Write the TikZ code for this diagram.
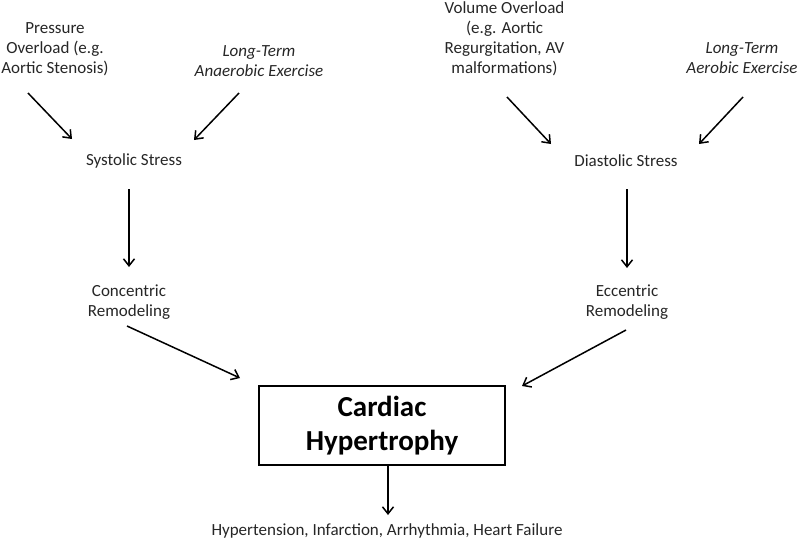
\documentclass[tikz,border=0pt]{standalone}
\usepackage{fontspec}
\setmainfont{Carlito}
\usetikzlibrary{arrows.meta,calc}
\tikzset{
  lbl/.style={align=center, inner sep=0pt, font=\fontsize{17}{20}\selectfont, text=black!85},
  ilbl/.style={lbl, font=\fontsize{17}{20}\selectfont\itshape},
  arr/.style={line width=1.5pt, -{Straight Barb[length=7pt,width=11pt,line width=1.5pt]}},
  mainbox/.style={draw, line width=1.4pt, minimum width=246pt, minimum height=79pt, inner sep=0pt, align=center, font=\fontsize{29}{34}\selectfont\bfseries}
}
\begin{document}
\begin{tikzpicture}[x=1pt,y=-1pt]
\useasboundingbox (0,0) rectangle (800,542);
\node[lbl] (pressure) at (55,49) {Pressure\\Overload (e.g.\\Aortic Stenosis)};
\node[ilbl] (anaerobic) at (259,61) {Long-Term\\Anaerobic Exercise};
\node[lbl] (systolic) at (134,161) {Systolic Stress};
\node[lbl] (concentric) at (129,302) {Concentric\\Remodeling};
\node[lbl] (volume) at (504.5,39) {Volume Overload\\(e.g. Aortic\\Regurgitation, AV\\malformations)};
\node[ilbl] (aerobic) at (742,58.5) {Long-Term\\Aerobic Exercise};
\node[lbl] (diastolic) at (626,161) {Diastolic Stress};
\node[lbl] (eccentric) at (627,302) {Eccentric\\Remodeling};
\node[mainbox] (box) at (382,425.5) {Cardiac\\Hypertrophy};
\node[lbl] (result) at (387,531) {Hypertension, Infarction, Arrhythmia, Heart Failure};

\draw[arr] ($(pressure)+(-27,44)$) -- ($(systolic)+(-62,-22)$);
\draw[arr] ($(anaerobic)+(-20,32)$) -- ($(systolic)+(60,-21)$);
\draw[arr] ($(systolic)+(-5,28)$) -- ($(concentric)+(0,-35)$);
\draw[arr] ($(concentric)+(-2,24)$) -- ($(box)+(-142,-47.5)$);
\draw[arr] ($(volume)+(2.5,58)$) -- ($(diastolic)+(-75,-17)$);
\draw[arr] ($(aerobic)+(1,38.5)$) -- ($(diastolic)+(73,-17)$);
\draw[arr] ($(diastolic)+(1,28)$) -- ($(eccentric)+(0,-34)$);
\draw[arr] ($(eccentric)+(-1,28)$) -- ($(box)+(140,-39.5)$);
\draw[arr] ($(box.south)+(6,0)$) -- ($(result)+(1,-16)$);
\end{tikzpicture}
\end{document}
